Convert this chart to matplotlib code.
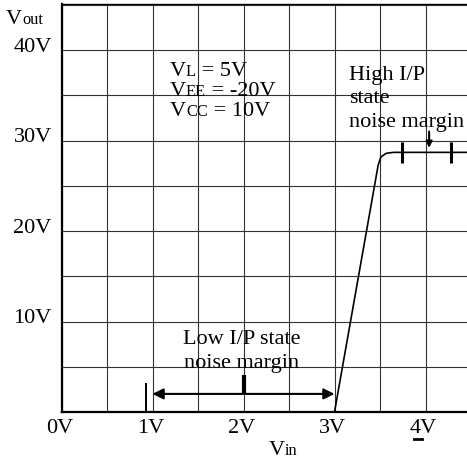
import matplotlib
matplotlib.use("Agg")
import matplotlib.pyplot as plt
from matplotlib.transforms import ScaledTranslation

plt.rcParams['font.family'] = ['Liberation Serif', 'DejaVu Serif']

# transfer characteristic (Vin -> Vout)
vin_curve = [0.0, 3.0, 3.48, 3.51, 3.57, 3.65, 4.6]
vout_curve = [0.0, 0.0, 27.3, 28.2, 28.6, 28.7, 28.7]

x_ticks = [0, 1, 2, 3, 4]
x_labels = ["0V", "1V", "2V", "3V", "4V"]
y_ticks = [10, 20, 30, 40]
y_labels = ["10V", "20V", "30V", "40V"]

# noise margin marks
low_margin = [1.0, 3.0]          # arrow ends (V)
low_margin_level = 2.0
high_margin_ticks = [3.74, 4.28]

conditions = [("L", " = 5V"), ("EE", " = -20V"), ("CC", " = 10V")]

FS = 16

fig = plt.figure(figsize=(4.67, 4.62), dpi=100)
ax = fig.add_axes([61.5 / 467, 50 / 462, 1 - 61.5 / 467, 408 / 462])
ax.set_xlim(0, 4.456)
ax.set_ylim(0, 45.1)

# grid
ax.set_xticks(x_ticks)
ax.set_xticklabels(x_labels)
ax.set_xticks([i * 0.5 for i in range(9)], minor=True)
ax.set_yticks(y_ticks)
ax.set_yticklabels(y_labels)
ax.set_yticks([i * 5 for i in range(10)], minor=True)
ax.grid(which='both', color='#333333', lw=0.8)
ax.set_axisbelow(True)
ax.tick_params(which='both', length=0, labelsize=FS)
ax.tick_params(axis='x', pad=5)
ax.tick_params(axis='y', pad=7)
for lab in ax.get_yticklabels():
    lab.set_transform(lab.get_transform() + ScaledTranslation(0, 4 / 72, fig.dpi_scale_trans))
for lab in ax.get_xticklabels():
    lab.set_transform(lab.get_transform() + ScaledTranslation(-1.5 / 72, 0, fig.dpi_scale_trans))
ax.spines['right'].set_visible(False)
ax.spines['left'].set_linewidth(1.6)
ax.spines['bottom'].set_linewidth(1.6)
ax.spines['top'].set_linewidth(1.0)

# curve
ax.plot(vin_curve, vout_curve, color='black', lw=1.2, solid_joinstyle='round', clip_on=False)

renderer = fig.canvas.get_renderer()


def vtext(x, y, sub, rest="", size=FS):
    # "V" with a small subscript sitting on the baseline, then the rest
    parts = [("V", size), (sub, size * 0.74), (rest, size)]
    xd, yd = ax.transData.transform((x, y))
    for s, fs in parts:
        if not s:
            continue
        t = ax.text(xd, yd, s, fontsize=fs, va='baseline', ha='left',
                    transform=None, clip_on=False)
        xd = t.get_window_extent(renderer).x1


# axis titles
vtext(-0.61, 42.9, "out")
vtext(2.28, -4.7, "in")

# operating conditions
for i, (sub, rest) in enumerate(conditions):
    vtext(1.19, 37.1 - 2.2 * i, sub, rest)

# high I/P state noise margin
ax.text(3.16, 37.2, "High I/P", fontsize=FS, va='center', ha='left')
ax.text(3.16, 34.6, "state", fontsize=FS, va='center', ha='left')
ax.text(3.16, 32.0, "noise margin", fontsize=FS, va='center', ha='left')
for xt in high_margin_ticks:
    ax.plot([xt, xt], [27.5, 29.8], color='black', lw=2.2, solid_capstyle='butt')
ax.annotate("", xy=(4.04, 29.2), xytext=(4.04, 31.0),
            arrowprops=dict(arrowstyle='-|>', color='black', lw=1.5,
                            mutation_scale=9, shrinkA=0, shrinkB=0))

# low I/P state noise margin
ax.text(1.98, 8.0, "Low I/P state", fontsize=FS, va='center', ha='center')
ax.text(1.98, 5.4, "noise margin", fontsize=FS, va='center', ha='center')
ax.annotate("", xy=(low_margin[0], low_margin_level), xytext=(low_margin[1], low_margin_level),
            arrowprops=dict(arrowstyle='<|-|>', color='black', lw=1.5,
                            mutation_scale=16, shrinkA=0, shrinkB=0))
ax.plot([0.93, 0.93], [0, 3.2], color='black', lw=1.4, solid_capstyle='butt')
ax.plot([2.0, 2.0], [2.1, 4.1], color='black', lw=3.0, solid_capstyle='butt')

# small mark under 4V
ax.plot([3.87, 3.96], [-3.0, -3.0], color='black', lw=2.0, clip_on=False)

fig.savefig("out.png", dpi=100)
